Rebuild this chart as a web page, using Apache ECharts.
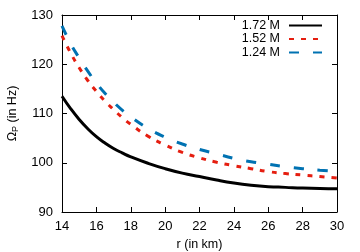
<!DOCTYPE html>
<html>
<head>
<meta charset="utf-8">
<script src="https://cdn.jsdelivr.net/npm/echarts@6/dist/echarts.min.js"></script>
<style>html,body{margin:0;padding:0;background:#fff}#c{width:360px;height:252px}</style>
</head>
<body>
<div id="c"></div>
<script>
const radii = [14, 14.5, 15, 15.5, 16, 16.5, 17, 17.5, 18, 19, 20, 21, 22, 23, 24, 25, 26, 27, 28, 29, 30];
const m172 = [113.5, 111.0, 108.8, 106.9, 105.3, 104.0, 102.9, 102.0, 101.2, 99.9, 98.8, 97.9, 97.2, 96.5, 95.9, 95.45, 95.15, 95.0, 94.85, 94.75, 94.7];
const m152 = [125.8, 122.3, 119.3, 116.7, 114.5, 112.5, 110.8, 109.2, 107.8, 105.4, 103.6, 102.1, 101.0, 100.1, 99.4, 98.8, 98.2, 97.8, 97.5, 97.2, 96.9];
const m124 = [127.8, 124.2, 121.3, 118.6, 116.2, 114.1, 112.3, 110.7, 109.3, 107.0, 105.2, 103.8, 102.7, 101.8, 100.9, 100.2, 99.7, 99.2, 98.8, 98.5, 98.3];
const seriesNames = ['1.72 M', '1.52 M', '1.24 M'];
const xTicks = [14, 16, 18, 20, 22, 24, 26, 28, 30];
const yTicks = [90, 100, 110, 120, 130];

const FONT = 'Liberation Sans, Arial, sans-serif';
const pairs = arr => radii.map((r, i) => [r, arr[i]]);

const chart = echarts.init(document.getElementById('c'), null, {renderer: 'canvas'});
const baseAxis = {
  type: 'value',
  axisLine: {show: true, onZero: false, lineStyle: {color: '#000', width: 1}},
  axisTick: {show: true, inside: true, length: 5, lineStyle: {color: '#000'}},
  splitLine: {show: false}
};
chart.setOption({
  animation: false,
  backgroundColor: '#fff',
  textStyle: {fontFamily: FONT, color: '#000'},
  grid: {left: 62, right: 23, top: 15, bottom: 40, containLabel: false, outerBoundsMode: 'none'},
  legend: {
    orient: 'vertical', right: 37, top: 19, align: 'right', padding: 0,
    itemWidth: 33, itemHeight: 10, itemGap: 0.5,
    itemStyle: {opacity: 0},
    textStyle: {fontFamily: FONT, fontSize: 12.5, lineHeight: 12.5, color: '#000', padding: [0, 4, 0, 0]},
    data: seriesNames
  },
  xAxis: [
    Object.assign({}, baseAxis, {
      position: 'bottom', min: xTicks[0], max: xTicks[xTicks.length - 1], interval: 2,
      name: 'r (in km)', nameLocation: 'middle', nameGap: 26,
      nameTextStyle: {fontFamily: FONT, fontSize: 12.5, color: '#000'},
      axisLabel: {fontFamily: FONT, fontSize: 13, color: '#000', margin: 8}
    }),
    Object.assign({}, baseAxis, {
      position: 'top', min: xTicks[0], max: xTicks[xTicks.length - 1], interval: 2,
      axisLabel: {show: false}
    })
  ],
  yAxis: [
    Object.assign({}, baseAxis, {
      position: 'left', min: yTicks[0], max: yTicks[yTicks.length - 1], interval: 10,
      name: 'Ω{sub|P} (in Hz)', nameLocation: 'middle', nameGap: 42, nameRotate: 90,
      nameTextStyle: {fontFamily: FONT, fontSize: 12.5, color: '#000',
        rich: {sub: {fontFamily: FONT, fontSize: 9, color: '#000', verticalAlign: 'bottom', padding: [6, 0, 0, 0]}}},
      axisLabel: {fontFamily: FONT, fontSize: 13, color: '#000', margin: 9}
    }),
    Object.assign({}, baseAxis, {
      position: 'right', min: yTicks[0], max: yTicks[yTicks.length - 1], interval: 10,
      axisLabel: {show: false}
    })
  ],
  series: [
    {name: seriesNames[0], type: 'line', data: pairs(m172), symbol: 'none', smooth: true,
      color: '#000000', lineStyle: {color: '#000000', width: 3, type: 'solid'}},
    {name: seriesNames[1], type: 'line', data: pairs(m152), symbol: 'none', smooth: true,
      color: '#e51e10', lineStyle: {color: '#e51e10', width: 3, type: [5, 7]}},
    {name: seriesNames[2], type: 'line', data: pairs(m124), symbol: 'none', smooth: true,
      color: '#0072b2', lineStyle: {color: '#0072b2', width: 3, type: [10, 14]}}
  ]
});
</script>
</body>
</html>
